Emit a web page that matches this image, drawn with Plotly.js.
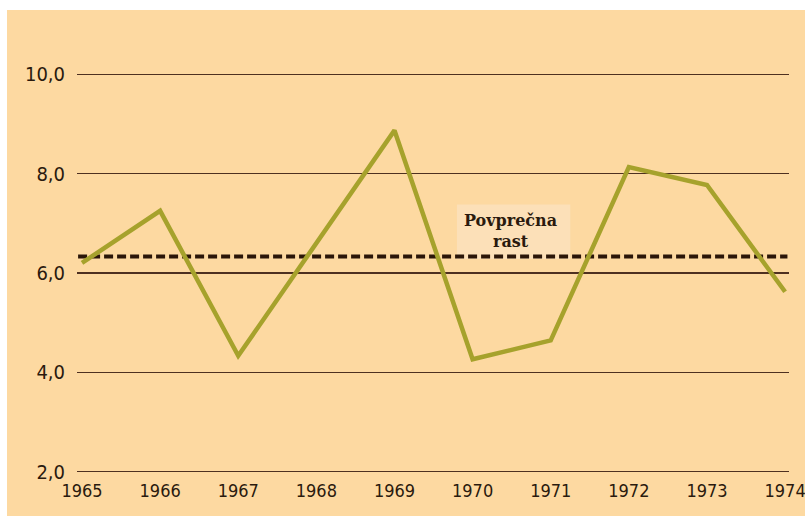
<!DOCTYPE html>
<html>
<head>
<meta charset="utf-8">
<script src="https://cdn.plot.ly/plotly-3.0.1.min.js"></script>
<style>
html,body{margin:0;padding:0;background:#ffffff;width:805px;height:516px;overflow:hidden;}
#chart{position:absolute;left:7px;top:10px;width:798px;height:506px;}
</style>
</head>
<body>
<div id="chart"></div>
<script>
const years = [1965, 1966, 1967, 1968, 1969, 1970, 1971, 1972, 1973, 1974];
const growth = [6.2, 7.25, 4.33, 6.6, 8.87, 4.26, 4.64, 8.13, 7.77, 5.62];
const averageGrowth = 6.33;
const yTicks = [2, 4, 6, 8, 10];
const avgLabel = "Povprečna<br>rast";

const bg = '#FDD9A1';
const traces = [
  {
    x: [years[0] - 0.05, years[years.length - 1] + 0.03],
    y: [averageGrowth, averageGrowth],
    mode: 'lines',
    line: {color: '#2B1608', width: 4, dash: '9px,4px'},
    hoverinfo: 'skip'
  },
  {
    x: years,
    y: growth,
    mode: 'lines',
    line: {color: '#A6A22C', width: 4.5},
    hoverinfo: 'skip'
  }
];

const layout = {
  width: 798,
  height: 506,
  paper_bgcolor: bg,
  plot_bgcolor: bg,
  showlegend: false,
  separators: ',.',
  margin: {l: 70, r: 16, t: 34, b: 42},
  font: {family: '"DejaVu Sans Condensed", "Liberation Sans Narrow", Arial, sans-serif', color: '#2A1A0E'},
  xaxis: {
    range: [1964.936, 1974.05],
    tickvals: years,
    ticktext: years.map(String),
    showgrid: false,
    zeroline: false,
    showline: false,
    ticks: '',
    tickfont: {size: 18, color: '#2A1A0E'},
    ticklabelstandoff: 4,
    ticklabelshift: 0,
    ticklabeloverflow: 'allow',
    fixedrange: true
  },
  yaxis: {
    range: [1.95, 10.61],
    tickvals: yTicks,
    tickformat: '.1f',
    showgrid: true,
    gridcolor: '#4E3020',
    gridwidth: 1.3,
    zeroline: false,
    showline: false,
    ticks: '',
    tickfont: {size: 20, color: '#2A1A0E'},
    ticklabelstandoff: 11,
    fixedrange: true
  },
  shapes: [
    {
      type: 'rect',
      xref: 'x',
      yref: 'y',
      x0: 1969.8,
      x1: 1971.25,
      y0: averageGrowth - 0.05,
      y1: averageGrowth + 1.05,
      fillcolor: '#FCE0B8',
      line: {width: 0},
      layer: 'below'
    }
  ],
  annotations: [
    {
      x: 1970.48,
      y: averageGrowth + 0.52,
      xref: 'x',
      yref: 'y',
      text: '<b>' + avgLabel + '</b>',
      showarrow: false,
      font: {family: '"DejaVu Serif", "Liberation Serif", serif', size: 16, color: '#2A1A0E'},
      align: 'center'
    }
  ]
};

Plotly.newPlot('chart', traces, layout, {staticPlot: true, displayModeBar: false});
</script>
</body>
</html>
